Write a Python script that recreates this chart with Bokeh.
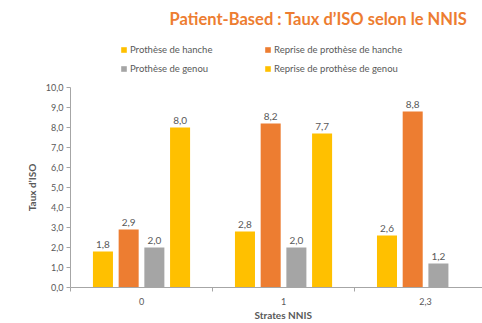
import math

from bokeh.core.properties import value
from bokeh.embed import file_html
from bokeh.layouts import column
from bokeh.models import (ColumnDataSource, FixedTicker, Label, Legend,
                          LegendItem, Range1d, Title)
from bokeh.plotting import figure
from bokeh.resources import INLINE

# ---- data -------------------------------------------------------------
strates = ["0", "1", "2,3"]
series_names = [
    "Prothèse de hanche",
    "Reprise de prothèse de hanche",
    "Prothèse de genou",
    "Reprise de prothèse de genou",
]
prothese_hanche = [1.8, 2.8, 2.6]
reprise_hanche = [2.9, 8.2, 8.8]
prothese_genou = [2.0, 2.0, 1.2]
reprise_genou = [8.0, 7.7, float("nan")]
y_ticks = [0, 1, 2, 3, 4, 5, 6, 7, 8, 9, 10]

series_values = [prothese_hanche, reprise_hanche, prothese_genou, reprise_genou]
colors = ["#FFC000", "#ED7D31", "#A5A5A5", "#FFC000"]

FONT = "Lato"
TEXT_GREY = "#595959"
AXIS_GREY = "#A6A6A6"
W = 482
HEAD_H = 77
LEFT = 70

x_cat = list(range(len(strates)))

# ---- header: title and two-column legend ------------------------------
# header uses a pixel-like coordinate system (x: canvas px, y: px from top)
head = figure(
    width=W, height=HEAD_H,
    x_range=Range1d(LEFT, W), y_range=Range1d(HEAD_H, 0),
    x_axis_type=None, y_axis_type=None,
    output_backend="svg", toolbar_location=None,
    min_border_left=LEFT, min_border_right=0,
    min_border_top=0, min_border_bottom=0,
)
head.outline_line_color = None
head.grid.visible = False

head.add_layout(Label(x=318, y=18, text="Patient-Based : Taux d’ISO selon le NNIS",
                      text_align="center", text_baseline="middle",
                      text_font=FONT, text_font_style="bold",
                      text_font_size="16.5px", text_color="#ED7D31"))

# hidden copies of the series, only used to feed the legend swatches
swatches = []
for name, vals, col in zip(series_names, series_values, colors):
    r = head.vbar(x=x_cat, top=vals, width=0.1, fill_color=col,
                  line_color=None, visible=False)
    swatches.append(LegendItem(label=name, renderers=[r]))


def make_legend(items, x):
    return Legend(items=items, location=(x, 3), orientation="vertical",
                  padding=0, margin=0, spacing=7,
                  glyph_width=7, glyph_height=7, label_height=12,
                  label_standoff=3, border_line_color=None,
                  background_fill_alpha=0,
                  label_text_font=FONT, label_text_font_size="9.5px",
                  label_text_color=TEXT_GREY)


head.add_layout(make_legend([swatches[0], swatches[2]], 120 - LEFT), "center")
head.add_layout(make_legend([swatches[1], swatches[3]], 264 - LEFT), "center")

# ---- chart ------------------------------------------------------------
p = figure(
    width=W, height=323 - HEAD_H,
    x_range=Range1d(-0.5, 2.401), y_range=Range1d(0, 10),
    output_backend="svg", toolbar_location=None,
    min_border_left=LEFT, min_border_right=0,
    min_border_top=10, min_border_bottom=36,
)
p.outline_line_color = None
p.xgrid.visible = False
p.ygrid.visible = False

bar_width = 0.141
bar_step = 0.181
for k, (vals, col) in enumerate(zip(series_values, colors)):
    off = (k - 1.5) * bar_step
    xs = [c + off for c in x_cat]
    src = ColumnDataSource(dict(x=xs, top=vals))
    p.vbar(x="x", top="top", width=bar_width, source=src,
           fill_color=col, line_color=None)

    keep = [i for i, v in enumerate(vals) if not math.isnan(v)]
    lbl = ColumnDataSource(dict(
        x=[xs[i] for i in keep],
        y=[vals[i] for i in keep],
        t=[f"{vals[i]:.1f}".replace(".", ",") for i in keep],
    ))
    p.text(x="x", y="y", text="t", source=lbl, y_offset=-4,
           text_align="center", text_baseline="bottom",
           text_font=value(FONT), text_font_size="10px",
           text_color=TEXT_GREY)

xa = p.xaxis[0]
xa.ticker = FixedTicker(ticks=x_cat, minor_ticks=[-0.5, 0.5, 1.5, 2.5])
xa.major_label_overrides = {i: s for i, s in enumerate(strates)}
xa.major_tick_line_color = None
xa.major_tick_out = 0
xa.minor_tick_in = 0
xa.minor_tick_out = 4
xa.minor_tick_line_color = AXIS_GREY
xa.axis_line_color = AXIS_GREY
xa.major_label_standoff = 6
xa.major_label_text_font = FONT
xa.major_label_text_font_size = "9px"
xa.major_label_text_color = TEXT_GREY

ya = p.yaxis[0]
ya.ticker = FixedTicker(ticks=y_ticks)
ya.major_label_overrides = {t: f"{t:.1f}".replace(".", ",") for t in y_ticks}
ya.major_tick_in = 0
ya.major_tick_out = 4
ya.major_tick_line_color = AXIS_GREY
ya.minor_tick_line_color = None
ya.axis_line_color = AXIS_GREY
ya.major_label_standoff = 3
ya.major_label_text_font = FONT
ya.major_label_text_font_size = "9px"
ya.major_label_text_color = TEXT_GREY
ya.axis_label = "Taux d’ISO"
ya.axis_label_standoff = 5
ya.axis_label_text_font = FONT
ya.axis_label_text_font_style = "bold"
ya.axis_label_text_font_size = "10px"
ya.axis_label_text_color = TEXT_GREY

# x-axis title, centred under the middle category
p.add_layout(Title(text="Strates NNIS", align="left", offset=184,
                   vertical_align="top",
                   text_font=FONT, text_font_style="bold",
                   text_font_size="10px", text_color=TEXT_GREY,
                   standoff=2), "below")

layout = column(head, p, spacing=0)
open("out.html", "w").write(file_html(layout, INLINE))
